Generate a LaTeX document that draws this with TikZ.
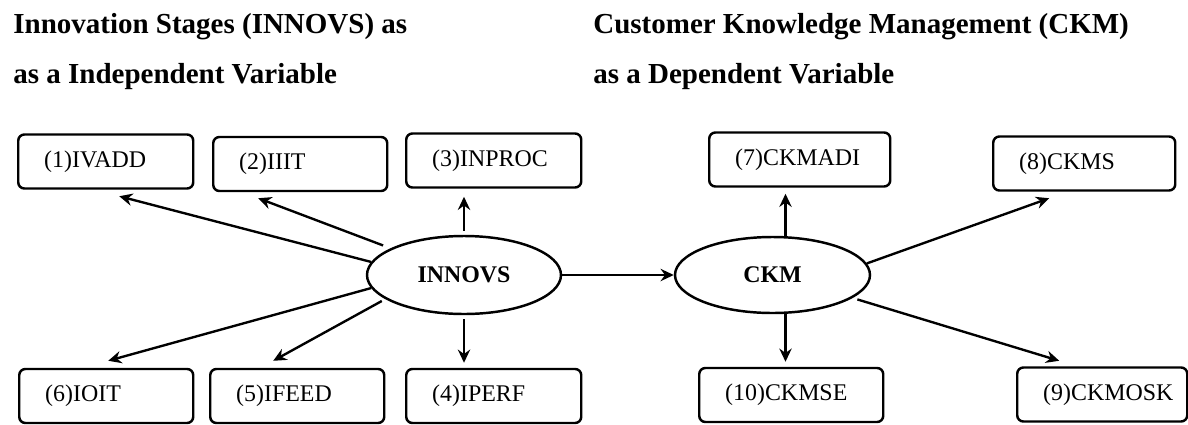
\documentclass[tikz,border=0pt]{standalone}
\usepackage{fontspec}
\setmainfont{Liberation Serif}
\usetikzlibrary{shapes.geometric,arrows.meta}

\begin{document}
\begin{tikzpicture}[
            >={Stealth[length=7.5pt,width=7pt,inset=2.5pt]},
            indicator/.style={
                draw,
                rectangle,
                rounded corners=3.5pt,
                line width=1.4pt,
                anchor=west,
                align=left,
                text width=2.46cm,
                inner xsep=0.52cm,
                inner ysep=0pt,
                minimum height=1.08cm,
                font=\fontsize{13.6}{16}\selectfont
            },
            construct/.style={
                ellipse,
                draw,
                line width=1.4pt,
                minimum width=3.88cm,
                minimum height=1.56cm,
                inner sep=0pt,
                font=\fontsize{13.6}{16}\selectfont\bfseries
            },
            heading/.style={
                anchor=base west,
                inner sep=0pt,
                font=\fontsize{16.5}{20}\selectfont\bfseries
            },
            link/.style={->, line width=1.35pt}
        ]

            \useasboundingbox (0, 0) rectangle (23.76, -8.48);

            % headings
            \node[heading] (ivhead) at (0.26, -0.66) {Innovation Stages (INNOVS) as};
            \node[heading] (ivsub) at (0.26, -1.66) {as a Independent Variable};
            \node[heading] (dvhead) at (11.86, -0.66) {Customer Knowledge Management (CKM)};
            \node[heading] (dvsub) at (11.86, -1.66) {as a Dependent Variable};

            % constructs
            \node[construct] (innovs) at (9.28, -5.50) {INNOVS};
            \node[construct, minimum width=3.9cm, minimum height=1.52cm] (ckm) at (15.45, -5.50) {CKM};

            % innovation stages
            \node[indicator] (ivadd) at (0.34, -3.23) {(1)IVADD};
            \node[indicator, text width=2.44cm] (iiit) at (4.24, -3.28) {(2)IIIT};
            \node[indicator] (inproc) at (8.10, -3.21) {(3)INPROC};
            \node[indicator] (iperf) at (8.10, -7.92) {(4)IPERF};
            \node[indicator, text width=2.44cm] (ifeed) at (4.18, -7.92) {(5)IFEED};
            \node[indicator, text width=2.44cm] (ioit) at (0.36, -7.92) {(6)IOIT};

            % customer knowledge management
            \node[indicator, text width=2.58cm] (ckmadi) at (14.16, -3.19) {(7)CKMADI};
            \node[indicator, text width=2.60cm] (ckms) at (19.84, -3.27) {(8)CKMS};
            \node[indicator, text width=2.36cm] (ckmosk) at (20.32, -7.89) {(9)CKMOSK};
            \node[indicator, text width=2.64cm] (ckmse) at (13.96, -7.90) {(10)CKMSE};

            \coordinate (ckmtop) at ([xshift=0.26cm]ckm.north);
            \coordinate (ckmbot) at ([xshift=0.26cm]ckm.south);

            \draw[link] (innovs.172) -- ([shift={(0.27,-0.13)}]ivadd.south);
            \draw[link, shorten <=0.16cm] (innovs.160) -- ([shift={(-0.84,-0.12)}]iiit.south);
            \draw[link, shorten <=0.08cm, shorten >=0.16cm] (innovs.north) -- (innovs.north |- inproc.south);
            \draw[link, shorten <=0.08cm, shorten >=0.1cm] (innovs.south) -- (innovs.south |- iperf.north);
            \draw[link, shorten <=0.08cm] (innovs.197) -- ([shift={(-0.48,0.14)}]ifeed.north);
            \draw[link] (innovs.188) -- ([shift={(0.04,0.14)}]ioit.north);

            \draw[link] (innovs.east) -- (ckm.west);

            \draw[link, shorten >=0.12cm] (ckmtop) -- (ckmtop |- ckmadi.south);
            \draw[link] (ckm.7) -- ([shift={(-0.70,-0.13)}]ckms.south);
            \draw[link, shorten <=0.1cm] (ckm.-16) -- ([shift={(-0.86,0.11)}]ckmosk.north);
            \draw[link, shorten >=0.1cm] (ckmbot) -- (ckmbot |- ckmse.north);

        \end{tikzpicture}
\end{document}
